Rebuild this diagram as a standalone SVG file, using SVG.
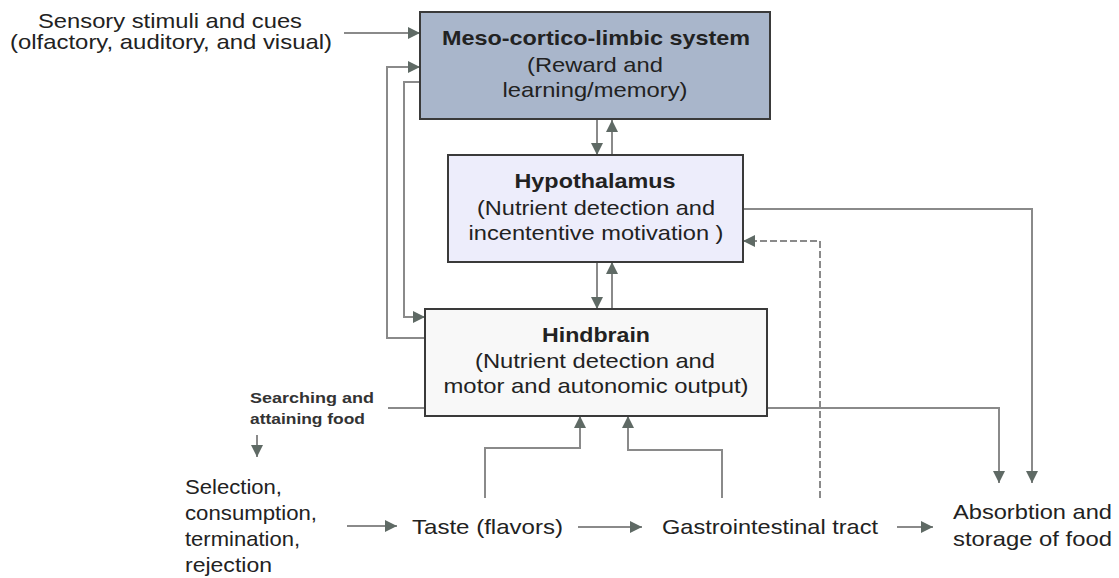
<svg xmlns="http://www.w3.org/2000/svg" width="1119" height="578" viewBox="0 0 1119 578">
<style>
text{font-family:"Liberation Sans",Arial,sans-serif;fill:#222;}
.t{font-size:21px;}
.b{font-size:21px;font-weight:bold;}
.s{font-size:15px;font-weight:bold;fill:#333;}
.c{text-anchor:middle;}
.box{stroke:#3a3a3a;stroke-width:2;}
.ln{fill:none;stroke:#8a8a8a;stroke-width:2;}
.ar{marker-end:url(#ah);}
.dash{stroke-dasharray:7,3;}
</style>
<defs>
<marker id="ah" markerUnits="userSpaceOnUse" markerWidth="12" markerHeight="12" viewBox="0 0 12 12" refX="12" refY="6" orient="auto">
<path d="M0,0 L12,6 L0,12 z" fill="#5f6a65"/>
</marker>
</defs>
<rect width="1119" height="578" fill="#ffffff"/>
<g id="connectors">
<path class="ln ar" d="M344,33 H420"/>
<path class="ln ar" d="M425,338 H387 V67 H420"/>
<path class="ln ar" d="M420,82 H404 V317 H425"/>
<path class="ln ar" d="M597,120 V155"/>
<path class="ln ar" d="M612,155 V120"/>
<path class="ln ar" d="M597,262 V309"/>
<path class="ln ar" d="M612,309 V262"/>
<path class="ln ar" d="M743,209 H1032 V483"/>
<path class="ln ar" d="M767,408 H999 V483"/>
<path class="ln" d="M388,408 H425"/>
<path class="ln ar" d="M257,435 V457"/>
<path class="ln ar" d="M347,526 H397"/>
<path class="ln ar" d="M578,527 H642"/>
<path class="ln ar" d="M897,527 H933"/>
<path class="ln ar" d="M485,498 V448 H580 V416"/>
<path class="ln ar" d="M722,498 V450 H628 V416"/>
<path class="ln dash ar" d="M820,498 V241 H743"/>
</g>
<g id="sensory">
<text class="t c" x="170" y="28" textLength="264" lengthAdjust="spacingAndGlyphs">Sensory stimuli and cues</text>
<text class="t c" x="171" y="49" textLength="322" lengthAdjust="spacingAndGlyphs">(olfactory, auditory, and visual)</text>
</g>
<g id="meso">
<rect class="box" x="420" y="12" width="350" height="107" fill="#a9b6cb"/>
<text class="b c" x="596" y="45" textLength="308" lengthAdjust="spacingAndGlyphs">Meso-cortico-limbic system</text>
<text class="t c" x="595" y="72" textLength="136" lengthAdjust="spacingAndGlyphs">(Reward and</text>
<text class="t c" x="595" y="97" textLength="185" lengthAdjust="spacingAndGlyphs">learning/memory)</text>
</g>
<g id="hypothalamus">
<rect class="box" x="448" y="155" width="295" height="107" fill="#ededfb"/>
<text class="b c" x="595" y="188" textLength="161" lengthAdjust="spacingAndGlyphs">Hypothalamus</text>
<text class="t c" x="596" y="215" textLength="238" lengthAdjust="spacingAndGlyphs">(Nutrient detection and</text>
<text class="t c" x="596" y="240" textLength="255" lengthAdjust="spacingAndGlyphs">incententive motivation )</text>
</g>
<g id="hindbrain">
<rect class="box" x="425" y="309" width="342" height="107" fill="#f8f8f8"/>
<text class="b c" x="596" y="342" textLength="108" lengthAdjust="spacingAndGlyphs">Hindbrain</text>
<text class="t c" x="595" y="368" textLength="240" lengthAdjust="spacingAndGlyphs">(Nutrient detection and</text>
<text class="t c" x="596" y="393" textLength="305" lengthAdjust="spacingAndGlyphs">motor and autonomic output)</text>
</g>
<g id="searching">
<text class="s" x="250" y="403" textLength="124" lengthAdjust="spacingAndGlyphs">Searching and</text>
<text class="s" x="250" y="424" textLength="115" lengthAdjust="spacingAndGlyphs">attaining food</text>
</g>
<g id="selection">
<text class="t" x="185" y="494" textLength="97" lengthAdjust="spacingAndGlyphs">Selection,</text>
<text class="t" x="185" y="520" textLength="132" lengthAdjust="spacingAndGlyphs">consumption,</text>
<text class="t" x="185" y="546" textLength="115" lengthAdjust="spacingAndGlyphs">termination,</text>
<text class="t" x="185" y="572" textLength="87" lengthAdjust="spacingAndGlyphs">rejection</text>
</g>
<g id="taste">
<text class="t" x="412" y="534" textLength="151" lengthAdjust="spacingAndGlyphs">Taste (flavors)</text>
</g>
<g id="gi">
<text class="t" x="662" y="534" textLength="216" lengthAdjust="spacingAndGlyphs">Gastrointestinal tract</text>
</g>
<g id="absorption">
<text class="t" x="953" y="519" textLength="159" lengthAdjust="spacingAndGlyphs">Absorbtion and</text>
<text class="t" x="953" y="546" textLength="159" lengthAdjust="spacingAndGlyphs">storage of food</text>
</g>
</svg>
